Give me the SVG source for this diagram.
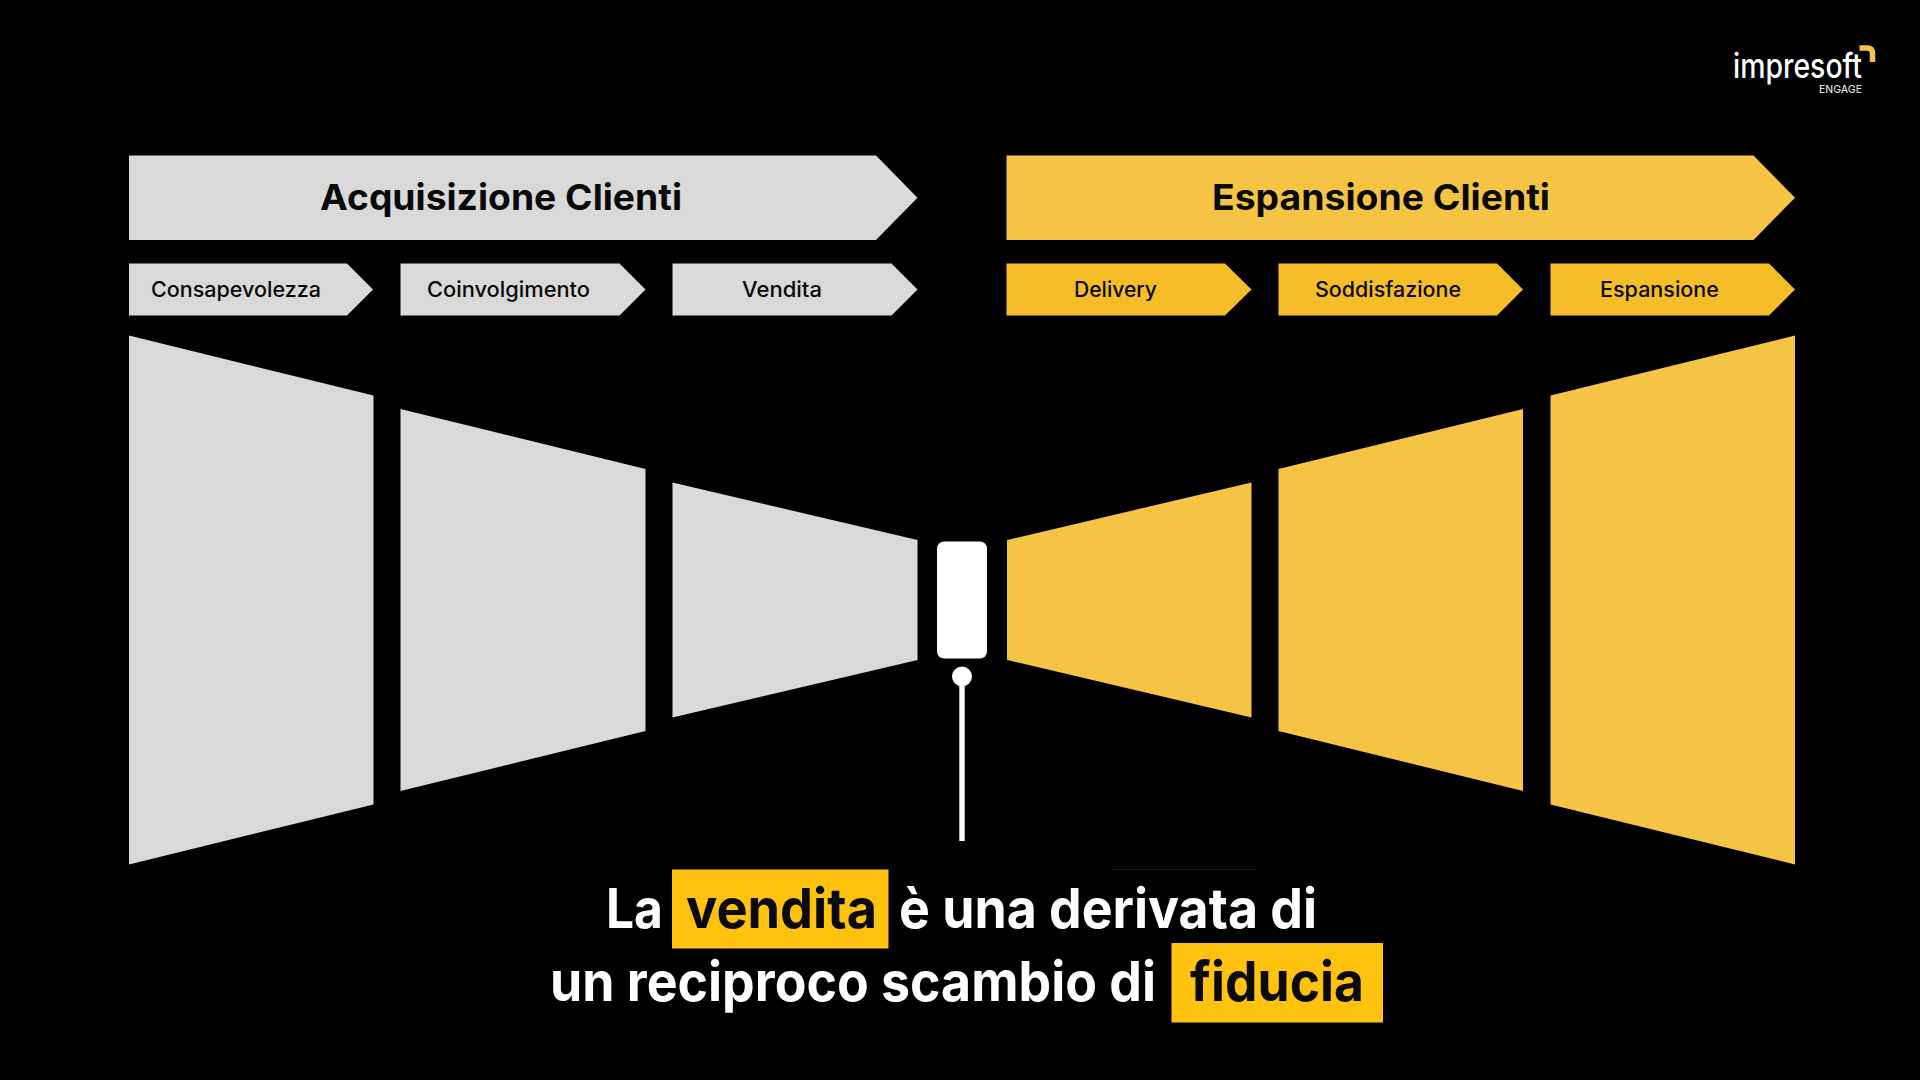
<svg xmlns="http://www.w3.org/2000/svg" width="1920" height="1080" viewBox="0 0 1920 1080">
<style>
text{font-family:"Inter","Noto Sans","Liberation Sans",sans-serif}
.g{fill:#d9d9d9}.y{fill:#f6c445}.ys{fill:#f5bd27}.hl{fill:#ffc20e}
.title{font-size:36px;font-weight:700;fill:#0a0a0a}
.lab{font-size:21px;font-weight:500;fill:#0a0a0a}
.big{font-size:55px;font-weight:700;fill:#fff}
.bigd{font-size:55px;font-weight:700;fill:#0a0a0a}
</style>
<rect width="1920" height="1080" fill="#000"/>
<g id="logo">
<text x="1733" y="78" font-size="34" font-weight="500" fill="#fff" textLength="129" lengthAdjust="spacingAndGlyphs">impresoft</text>
<text x="1819" y="93" font-size="10.5" font-weight="500" fill="#ddd" textLength="43" lengthAdjust="spacingAndGlyphs">ENGAGE</text>
<path d="M1859.5 48H1867Q1872.5 48 1872.5 53.5V62" fill="none" stroke="#f6c445" stroke-width="5.5"/>
</g>
<g id="header-acquisizione">
<polygon class="g" points="129,155.5 876,155.5 917.5,197.8 876,240 129,240"/>
<text class="title" x="320" y="209.5" textLength="362" lengthAdjust="spacingAndGlyphs">Acquisizione Clienti</text>
</g>
<g id="header-espansione">
<polygon class="y" points="1006.5,155.5 1753.5,155.5 1795,197.8 1753.5,240 1006.5,240"/>
<text class="title" x="1212" y="209.5" textLength="338" lengthAdjust="spacingAndGlyphs">Espansione Clienti</text>
</g>
<g id="step-consapevolezza">
<polygon class="g" points="129,263.5 347,263.5 373,289.5 347,315.5 129,315.5"/>
<text class="lab" x="151" y="297" textLength="170" lengthAdjust="spacingAndGlyphs">Consapevolezza</text>
</g>
<g id="step-coinvolgimento">
<polygon class="g" points="400.5,263.5 619.5,263.5 645.5,289.5 619.5,315.5 400.5,315.5"/>
<text class="lab" x="427" y="297" textLength="163" lengthAdjust="spacingAndGlyphs">Coinvolgimento</text>
</g>
<g id="step-vendita">
<polygon class="g" points="672.5,263.5 891.5,263.5 917.5,289.5 891.5,315.5 672.5,315.5"/>
<text class="lab" x="742" y="297" textLength="80" lengthAdjust="spacingAndGlyphs">Vendita</text>
</g>
<g id="step-delivery">
<polygon class="ys" points="1006.5,263.5 1225,263.5 1251.5,289.5 1225,315.5 1006.5,315.5"/>
<text class="lab" x="1074" y="297" textLength="83" lengthAdjust="spacingAndGlyphs">Delivery</text>
</g>
<g id="step-soddisfazione">
<polygon class="ys" points="1278.5,263.5 1497,263.5 1523,289.5 1497,315.5 1278.5,315.5"/>
<text class="lab" x="1315" y="297" textLength="146" lengthAdjust="spacingAndGlyphs">Soddisfazione</text>
</g>
<g id="step-espansione">
<polygon class="ys" points="1550.5,263.5 1769,263.5 1795,289.5 1769,315.5 1550.5,315.5"/>
<text class="lab" x="1600" y="297" textLength="119" lengthAdjust="spacingAndGlyphs">Espansione</text>
</g>
<g id="funnel-left">
<polygon class="g" points="129,335.5 373.5,395.5 373.5,804.5 129,864.5"/>
<polygon class="g" points="400.5,409 645.5,469 645.5,731 400.5,791"/>
<polygon class="g" points="672.5,482.5 917.5,540 917.5,660 672.5,717.5"/>
</g>
<g id="funnel-right">
<polygon class="y" points="1007,540 1251.5,482.5 1251.5,717.5 1007,660"/>
<polygon class="y" points="1278.5,469 1523,409 1523,791 1278.5,731"/>
<polygon class="y" points="1550.5,395.5 1795,335.5 1795,864.5 1550.5,804.5"/>
</g>
<g id="center-node">
<rect x="937" y="541.5" width="50" height="117" rx="7" fill="#fff"/>
</g>
<g id="connectors">
<circle cx="962" cy="676.5" r="10" fill="#fff"/>
<rect x="959.3" y="680" width="5.4" height="161" fill="#fff"/>
</g>
<g id="caption">
<rect x="1111" y="869" width="144" height="1" fill="#1c1c1c"/>
<rect class="hl" x="672" y="869.5" width="216.5" height="79"/>
<rect class="hl" x="1171.5" y="943" width="211.5" height="79.5"/>
<text class="big" x="606" y="928" textLength="57" lengthAdjust="spacingAndGlyphs">La</text>
<text class="bigd" x="686" y="928" textLength="191" lengthAdjust="spacingAndGlyphs">vendita</text>
<text class="big" x="899" y="928" textLength="418" lengthAdjust="spacingAndGlyphs">è una derivata di</text>
<text class="big" x="550" y="1001" textLength="606" lengthAdjust="spacingAndGlyphs">un reciproco scambio di</text>
<text class="bigd" x="1190" y="1001" textLength="174" lengthAdjust="spacingAndGlyphs">fiducia</text>
</g>
</svg>
